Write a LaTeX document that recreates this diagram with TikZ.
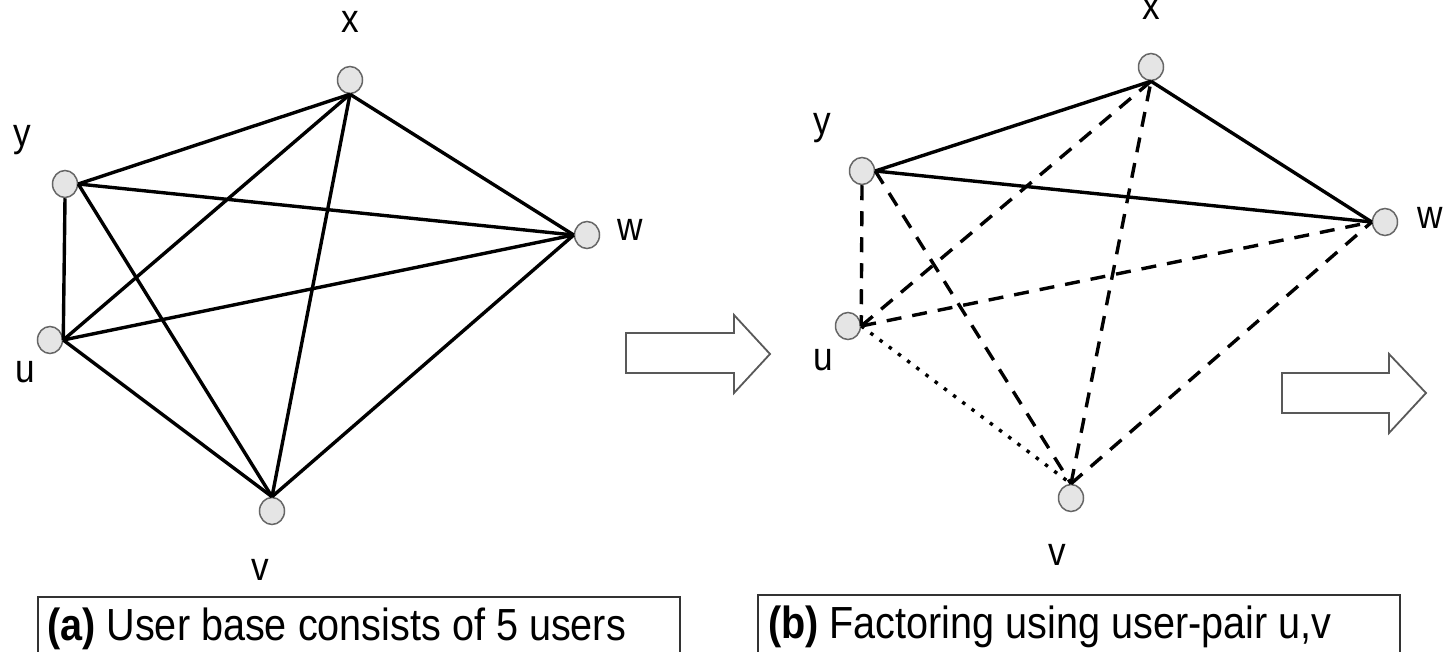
\documentclass[tikz,border=0pt]{standalone}
\usepackage{fontspec}
\setmainfont{Liberation Sans}[FakeStretch=0.88]
\usetikzlibrary{shapes.geometric}
\begin{document}
\begin{tikzpicture}[x=1pt,y=-1pt,
 vert/.style={ellipse,draw=gray!80!black,fill=gray!20,line width=1.5pt,minimum width=25pt,minimum height=27pt,inner sep=0},
 lbl/.style={font=\fontsize{40}{48}\selectfont,inner sep=0},
 edge/.style={line width=3.4pt,line cap=butt},
 dashedge/.style={edge,dash pattern=on 15pt off 11pt},
 dotedge/.style={edge,dash pattern=on 3.5pt off 8pt},
 bigarrow/.style={draw=gray!70!black,line width=1.8pt,fill=white,line join=miter},
 capbox/.style={draw=black!80,line width=1.5pt},
 captext/.style={font=\fontsize{45}{54}\selectfont,anchor=base west,inner sep=0}
]
\useasboundingbox (0,0) rectangle (1444,652);
\clip (0,0) rectangle (1444,652);
% ---------- panel (a)
\node[vert] (ax) at (350,80) {};
\node[vert] (ay) at (65,184) {};
\node[vert] (au) at (50,340) {};
\node[vert] (av) at (272,511) {};
\node[vert] (aw) at (587,235) {};
\node[lbl] (lax) at (350,22) {x};
\node[lbl] (lay) at (22,140) {y};
\node[lbl] (lau) at (25,372) {u};
\node[lbl] (lav) at (260,570) {v};
\node[lbl] (law) at (630,230) {w};
\draw[edge] (ax.south) -- (ay.east);
\draw[edge] (ax.south) -- (au.east);
\draw[edge] (ax.south) -- (av.north);
\draw[edge] (ax.south) -- (aw.west);
\draw[edge] (ay.east) -- (aw.west);
\draw[edge] (ay.south) -- (au.east);
\draw[edge] (ay.east) -- (av.north);
\draw[edge] (au.east) -- (aw.west);
\draw[edge] (au.east) -- (av.north);
\draw[edge] (av.north) -- (aw.west);
% ---------- panel (b)
\node[vert] (bx) at (1151,67) {};
\node[vert] (by) at (862,171) {};
\node[vert] (bu) at (848,326) {};
\node[vert] (bv) at (1071,498) {};
\node[vert] (bw) at (1385,222) {};
\node[lbl] (lbx) at (1151,9) {x};
\node[lbl] (lby) at (822,128) {y};
\node[lbl] (lbu) at (823,360) {u};
\node[lbl] (lbv) at (1057,555) {v};
\node[lbl] (lbw) at (1430,218) {w};
\draw[edge] (by.east) -- (bx.south);
\draw[edge] (bx.south) -- (bw.west);
\draw[edge] (by.east) -- (bw.west);
\draw[dashedge] (by.south) -- (bu.east);
\draw[dashedge] (by.east) -- (bv.north);
\draw[dashedge] (bu.east) -- (bx.south);
\draw[dashedge] (bu.east) -- (bw.west);
\draw[dashedge] (bv.north) -- (bx.south);
\draw[dashedge] (bv.north) -- (bw.west);
\draw[dotedge] (bu.east) -- (bv.north);
% ---------- block arrows
\draw[bigarrow] (626,333) coordinate (a1) -- (734,333) -- (734,315) -- (770,354) coordinate (atip) -- (734,393) -- (734,373) -- (626,373) -- cycle;
\draw[bigarrow] (1282,373) coordinate (b1) -- (1389,373) -- (1389,354) -- (1426,393) coordinate (btip) -- (1389,433) -- (1389,413) -- (1282,413) -- cycle;
% ---------- captions
\draw[capbox] (38,700) rectangle (680,597);
\draw[capbox] (758,700) rectangle (1400,595);
\node[captext] (capa) at (47,640) {\textbf{(a)} User base consists of 5 users};
\node[captext] (capb) at (768,638) {\textbf{(b)} Factoring using user-pair u,v};
\end{tikzpicture}
\end{document}
